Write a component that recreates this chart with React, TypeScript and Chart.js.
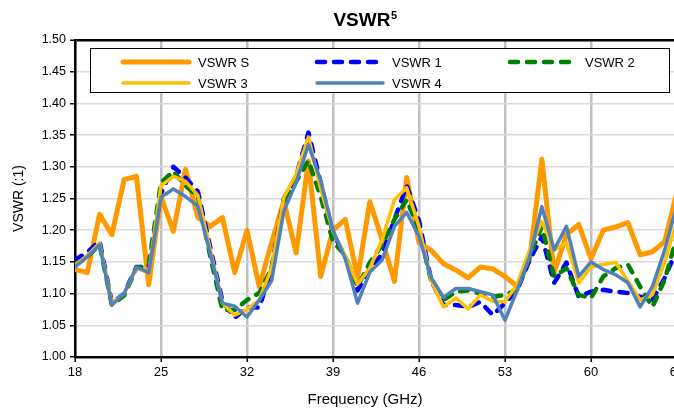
import React, { useEffect, useRef } from 'react';
import { Chart, registerables } from 'chart.js';

Chart.register(...registerables);

const frequencies = [18, 19, 20, 21, 22, 23, 24, 25, 26, 27, 28, 29, 30, 31, 32, 33, 34, 35, 36, 37, 38, 39, 40, 41, 42, 43, 44, 45, 46, 47, 48, 49, 50, 51, 52, 53, 54, 55, 56, 57, 58, 59, 60, 61, 62, 63, 64, 65, 66, 67];

const vswrS = [1.138, 1.133, 1.225, 1.193, 1.280, 1.285, 1.114, 1.253, 1.198, 1.296, 1.220, 1.206, 1.220, 1.133, 1.200, 1.111, 1.180, 1.246, 1.164, 1.309, 1.127, 1.200, 1.217, 1.125, 1.245, 1.185, 1.119, 1.283, 1.180, 1.168, 1.147, 1.137, 1.125, 1.142, 1.139, 1.127, 1.111, 1.153, 1.312, 1.133, 1.193, 1.209, 1.155, 1.200, 1.205, 1.212, 1.161, 1.166, 1.182, 1.260];
const vswr1 = [1.153, 1.165, 1.183, 1.085, 1.100, 1.142, 1.142, 1.258, 1.300, 1.283, 1.261, 1.174, 1.088, 1.062, 1.078, 1.078, 1.140, 1.250, 1.285, 1.354, 1.275, 1.195, 1.158, 1.105, 1.140, 1.162, 1.217, 1.270, 1.215, 1.120, 1.082, 1.082, 1.079, 1.087, 1.066, 1.085, 1.106, 1.153, 1.190, 1.117, 1.149, 1.095, 1.103, 1.106, 1.103, 1.101, 1.095, 1.090, 1.125, 1.170];
const vswr2 = [1.145, 1.158, 1.177, 1.082, 1.097, 1.140, 1.145, 1.275, 1.293, 1.270, 1.253, 1.160, 1.074, 1.074, 1.090, 1.101, 1.140, 1.240, 1.277, 1.310, 1.253, 1.182, 1.160, 1.111, 1.149, 1.177, 1.217, 1.248, 1.200, 1.120, 1.090, 1.103, 1.105, 1.100, 1.095, 1.098, 1.106, 1.158, 1.206, 1.127, 1.140, 1.098, 1.093, 1.127, 1.140, 1.146, 1.111, 1.079, 1.122, 1.190];
const vswr3 = [1.145, 1.160, 1.180, 1.085, 1.100, 1.140, 1.133, 1.270, 1.285, 1.277, 1.255, 1.170, 1.085, 1.066, 1.075, 1.090, 1.140, 1.252, 1.288, 1.347, 1.265, 1.198, 1.160, 1.115, 1.140, 1.185, 1.248, 1.267, 1.206, 1.120, 1.079, 1.093, 1.076, 1.098, 1.088, 1.087, 1.115, 1.169, 1.214, 1.169, 1.180, 1.117, 1.142, 1.146, 1.149, 1.120, 1.090, 1.098, 1.150, 1.215];
const vswr4 = [1.142, 1.158, 1.177, 1.082, 1.100, 1.142, 1.133, 1.252, 1.265, 1.253, 1.238, 1.164, 1.085, 1.080, 1.063, 1.090, 1.120, 1.230, 1.275, 1.335, 1.278, 1.200, 1.155, 1.085, 1.134, 1.153, 1.206, 1.228, 1.190, 1.125, 1.094, 1.108, 1.108, 1.103, 1.098, 1.058, 1.106, 1.158, 1.237, 1.169, 1.206, 1.127, 1.150, 1.138, 1.130, 1.117, 1.079, 1.111, 1.169, 1.240];

const seriesNames = ['VSWR S', 'VSWR 1', 'VSWR 2', 'VSWR 3', 'VSWR 4'];
const seriesValues = [vswrS, vswr1, vswr2, vswr3, vswr4];
const seriesColors = ['#FF9900', '#0000FF', '#008000', '#FFC000', '#4F81BD'];
const seriesWidths = [5, 4.5, 4.5, 3.5, 3.5];
const seriesDashes: number[][] = [[], [8, 9], [8, 9], [], []];

const xTickLabels = [18, 25, 32, 39, 46, 53, 60, 67];
const yMin = 1.0;
const yMax = 1.5;
const yStep = 0.05;

const chartTitle = 'VSWR';
const chartTitleSup = '5';
const xTitle = 'Frequency (GHz)';
const yTitle = 'VSWR (:1)';

const FONT = '"Liberation Sans", Arial, sans-serif';

const decorPlugin = {
  id: 'decor',
  afterDraw(chart: any) {
    const ctx = chart.ctx;
    const area = chart.chartArea;
    ctx.save();
    // Title
    ctx.fillStyle = '#000';
    ctx.textBaseline = 'alphabetic';
    ctx.font = `bold 19px ${FONT}`;
    const w1 = ctx.measureText(chartTitle).width;
    ctx.font = `bold 11px ${FONT}`;
    const w2 = ctx.measureText(chartTitleSup).width;
    const cx = 365;
    const start = cx - (w1 + w2) / 2;
    ctx.font = `bold 19px ${FONT}`;
    ctx.textAlign = 'left';
    ctx.fillText(chartTitle, start, 26);
    ctx.font = `bold 11px ${FONT}`;
    ctx.fillText(chartTitleSup, start + w1 + 0.5, 19);

    // Axis titles
    ctx.font = `15px ${FONT}`;
    ctx.textAlign = 'center';
    ctx.textBaseline = 'middle';
    ctx.fillText(xTitle, 365, 400);
    ctx.save();
    ctx.translate(19, (area.top + area.bottom) / 2);
    ctx.rotate(-Math.PI / 2);
    ctx.font = `14px ${FONT}`;
    ctx.fillText(yTitle, 0, 0);
    ctx.restore();

    // Legend box
    const lx = 90, ly = 48, lw = 579, lh = 44;
    ctx.fillStyle = '#fff';
    ctx.fillRect(lx, ly, lw, lh);
    ctx.strokeStyle = '#000';
    ctx.lineWidth = 1;
    ctx.strokeRect(lx + 0.5, ly + 0.5, lw, lh);
    const cols = [121, 315, 508];
    const rows = [62, 83];
    ctx.font = `13px ${FONT}`;
    ctx.textAlign = 'left';
    ctx.textBaseline = 'middle';
    seriesNames.forEach((name, i) => {
      const col = cols[i % 3];
      const row = rows[Math.floor(i / 3)];
      ctx.save();
      ctx.strokeStyle = seriesColors[i];
      ctx.lineWidth = seriesWidths[i];
      ctx.lineCap = 'round';
      ctx.setLineDash(seriesDashes[i]);
      ctx.beginPath();
      ctx.moveTo(col + 2, row);
      ctx.lineTo(col + 68, row);
      ctx.stroke();
      ctx.restore();
      ctx.fillStyle = '#000';
      ctx.fillText(name, col + 77, row + 1);
    });
    ctx.restore();
  },
};

export default function App() {
  const ref = useRef<HTMLCanvasElement | null>(null);
  useEffect(() => {
    if (!ref.current) return;
    const datasets = seriesNames.map((name, i) => ({
      label: name,
      data: frequencies.map((f, j) => ({ x: f, y: seriesValues[i][j] })),
      borderColor: seriesColors[i],
      backgroundColor: seriesColors[i],
      borderWidth: seriesWidths[i],
      borderDash: seriesDashes[i],
      borderCapStyle: 'round' as const,
      borderJoinStyle: 'round' as const,
      pointRadius: 0,
      tension: 0,
      fill: false,
      order: 5 - i,
    }));
    const chart = new Chart(ref.current, {
      type: 'line',
      data: { datasets },
      options: {
        animation: false,
        responsive: false,
        events: [],
        layout: { padding: { top: 40, right: 23, left: 0, bottom: 0 } },
        plugins: {
          legend: { display: false },
          title: { display: false },
          tooltip: { enabled: false },
        },
        scales: {
          x: {
            type: 'linear',
            min: 18,
            max: 67,
            afterFit: (s: any) => { s.height = 53; },
            afterBuildTicks: (s: any) => { s.ticks = xTickLabels.map((v) => ({ value: v })); },
            ticks: {
              font: { family: FONT, size: 13 },
              color: '#000',
              padding: 3,
              maxRotation: 0,
              autoSkip: false,
            },
            grid: {
              color: '#C0C0C0',
              lineWidth: 2.5,
              tickColor: '#000',
              tickLength: 5,
              tickWidth: 1.5,
            },
            border: { color: '#000', width: 2.5 },
          },
          y: {
            type: 'linear',
            min: yMin,
            max: yMax,
            afterFit: (s: any) => { s.width = 75; },
            ticks: {
              stepSize: yStep,
              font: { family: FONT, size: 12.5 },
              color: '#000',
              padding: 4,
              callback: (v: any) => Number(v).toFixed(2),
            },
            grid: {
              color: (c: any) => (c.tick && Math.abs(c.tick.value - yMax) < 1e-6 ? '#000' : '#D9D9D9'),
              lineWidth: (c: any) => (c.tick && Math.abs(c.tick.value - yMax) < 1e-6 ? 2.5 : 1.5),
              tickColor: '#000',
              tickLength: 5,
              tickWidth: 1.5,
            },
            border: { color: '#000', width: 2.5 },
          },
        },
      },
      plugins: [decorPlugin],
    });
    return () => chart.destroy();
  }, []);
  return (
    <div style={{ position: 'fixed', left: 0, top: 0, width: 674, height: 410, overflow: 'hidden', background: '#fff' }}>
      <canvas ref={ref} width={700} height={410} style={{ display: 'block', width: 700, height: 410 }} />
    </div>
  );
}
